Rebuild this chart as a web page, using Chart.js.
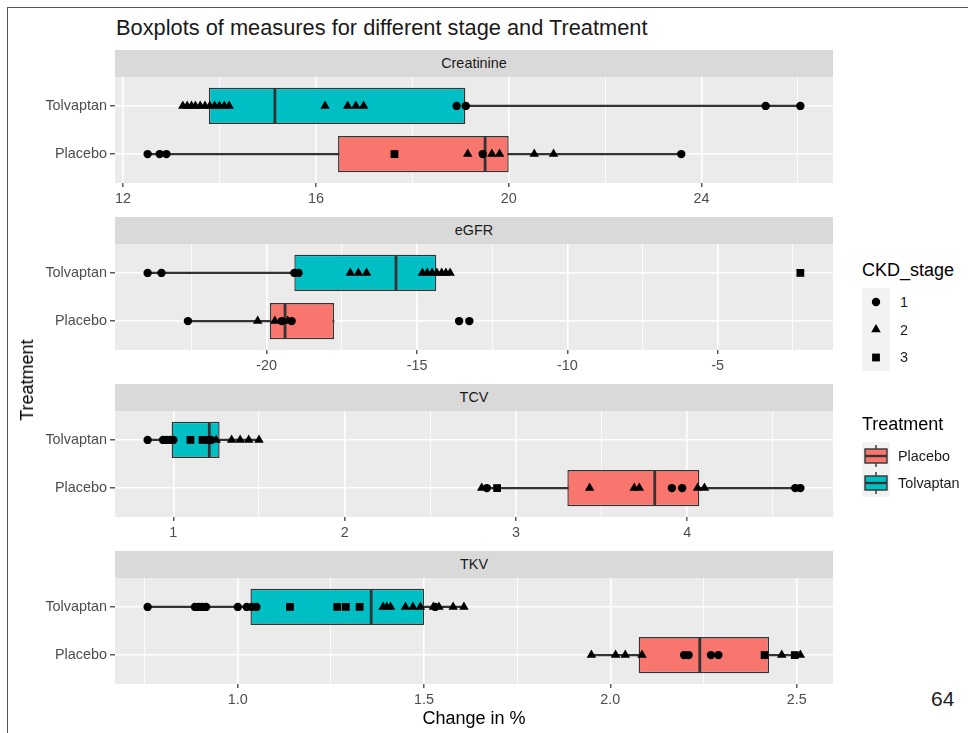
<!DOCTYPE html>
<html>
<head>
<meta charset="utf-8">
<script src="https://cdn.jsdelivr.net/npm/chart.js@4.4.1/dist/chart.umd.min.js"></script>
<style>
  html, body { margin: 0; padding: 0; background: #fff; }
  #page { position: relative; width: 968px; height: 733px; overflow: hidden;
          font-family: "Liberation Sans", Arial, Helvetica, sans-serif; color: #000; }
  .frameL { position: absolute; left: 7px; top: 7px; width: 1px; height: 726px; background: #555; }
  .frameT { position: absolute; left: 7px; top: 7px; width: 961px; height: 1px; background: #555; }
  #title { position: absolute; left: 116px; top: 16px; font-size: 21.8px; line-height: 24px;
           color: #1a1a1a; white-space: nowrap; }
  .strip { position: absolute; left: 115px; width: 718px; height: 27px; background: #d9d9d9;
           color: #1a1a1a; font-size: 14.4px; line-height: 27px; text-align: center; }
  canvas.panel { position: absolute; left: 0; }
  #xtitle { position: absolute; left: 115px; width: 718px; top: 707px; text-align: center;
            font-size: 18px; line-height: 22px; }
  #ytitle { position: absolute; left: 27px; top: 380px; font-size: 18px; line-height: 22px;
            white-space: nowrap; transform: translate(-50%, -50%) rotate(-90deg); }
  .lgTitle { position: absolute; left: 862px; font-size: 18px; line-height: 22px; white-space: nowrap; }
  .lgLabel { position: absolute; font-size: 14.4px; line-height: 18px; color: #1a1a1a; white-space: nowrap; }
  .lgKey { position: absolute; left: 862px; }
  #pageNo { position: absolute; left: 931px; top: 687px; font-size: 21px; line-height: 24px; color: #222; }
</style>
</head>
<body>
<div id="page">
  <div class="frameL"></div>
  <div class="frameT"></div>
  <div id="title">Boxplots of measures for different stage and Treatment</div>

  <div class="strip" style="top:50px">Creatinine</div>
  <canvas class="panel" id="pCreatinine" width="845" height="146" style="top:77px"></canvas>
  <div class="strip" style="top:217px">eGFR</div>
  <canvas class="panel" id="pEGFR" width="845" height="146" style="top:244px"></canvas>
  <div class="strip" style="top:384px">TCV</div>
  <canvas class="panel" id="pTCV" width="845" height="146" style="top:411px"></canvas>
  <div class="strip" style="top:551px">TKV</div>
  <canvas class="panel" id="pTKV" width="845" height="146" style="top:578px"></canvas>

  <div id="xtitle">Change in %</div>
  <div id="ytitle">Treatment</div>

  <!-- shape legend -->
  <div class="lgTitle" style="top:259px">CKD_stage</div>
  <svg class="lgKey" style="top:288px" width="28" height="83" viewBox="0 0 28 83">
    <rect x="0" y="0" width="28" height="83" fill="#f2f2f2"/>
    <circle cx="14" cy="14" r="4.2" fill="#000"/>
    <polygon points="14,36 18.8,44.3 9.2,44.3" fill="#000"/>
    <rect x="10.1" y="65.6" width="7.8" height="7.8" fill="#000"/>
  </svg>
  <div class="lgLabel" style="left:900px;top:293px">1</div>
  <div class="lgLabel" style="left:900px;top:320.5px">2</div>
  <div class="lgLabel" style="left:900px;top:348px">3</div>

  <!-- fill legend -->
  <div class="lgTitle" style="top:413px">Treatment</div>
  <svg class="lgKey" style="top:442px" width="28" height="55" viewBox="0 0 28 55">
    <rect x="0" y="0" width="28" height="55" fill="#f2f2f2"/>
    <g stroke="#333" stroke-width="1.4">
      <line x1="14" y1="3" x2="14" y2="7"/>
      <line x1="14" y1="21" x2="14" y2="25"/>
      <rect x="3" y="7" width="22" height="14" fill="#F8766D"/>
      <line x1="3" y1="14" x2="25" y2="14" stroke-width="2.4"/>
      <line x1="14" y1="30" x2="14" y2="34"/>
      <line x1="14" y1="48" x2="14" y2="52"/>
      <rect x="3" y="34" width="22" height="14" fill="#00BFC4"/>
      <line x1="3" y1="41" x2="25" y2="41" stroke-width="2.4"/>
    </g>
  </svg>
  <div class="lgLabel" style="left:898px;top:447px">Placebo</div>
  <div class="lgLabel" style="left:898px;top:474px">Tolvaptan</div>

  <div id="pageNo">64</div>
</div>

<script>
// Groups on the vertical axis (top to bottom) and the point-shape groups
const treatments = ['Tolvaptan', 'Placebo'];
const stages = ['1', '2', '3'];

// Box summaries per treatment: [lower whisker, Q1, median, Q3, upper whisker]
// Point lists per treatment: [Tolvaptan values, Placebo values]

// Creatinine
const creatinineBox = [[13.24, 13.78, 15.15, 19.10, 26.05], [12.51, 16.46, 19.51, 20.00, 23.58]];
const creatinineStage1 = [[18.92, 19.11, 25.33, 26.05], [12.51, 12.76, 12.90, 19.46, 23.58]];
const creatinineStage2 = [[13.24, 13.33, 13.42, 13.50, 13.60, 13.70, 13.80, 13.90, 14.00, 14.10, 14.20, 16.19, 16.66, 16.83, 16.99],
                          [19.15, 19.65, 19.81, 20.53, 20.93]];
const creatinineStage3 = [[], [17.63]];
const creatinineTicks = [12, 16, 20, 24];
const creatinineTickLabels = ['12', '16', '20', '24'];
const creatinineMinorTicks = [14, 18, 22, 26];

// eGFR
const egfrBox = [[-23.96, -19.08, -15.70, -14.36, -13.90], [-22.62, -19.89, -19.39, -17.76, -17.76]];
const egfrStage1 = [[-23.96, -23.50, -19.08, -18.94], [-22.62, -19.50, -19.17, -13.60, -13.26]];
const egfrStage2 = [[-17.22, -16.95, -16.68, -14.82, -14.66, -14.50, -14.34, -14.18, -14.04, -13.90],
                    [-20.30, -19.73, -19.30]];
const egfrStage3 = [[-2.25], []];
const egfrTicks = [-20, -15, -10, -5];
const egfrTickLabels = ['-20', '-15', '-10', '-5'];
const egfrMinorTicks = [-22.5, -17.5, -12.5, -7.5, -2.5];

// TCV
const tcvBox = [[0.85, 0.99, 1.21, 1.27, 1.50], [2.80, 3.30, 3.81, 4.07, 4.66]];
const tcvStage1 = [[0.85, 0.94, 0.96, 0.98, 1.00, 1.22], [2.83, 3.91, 3.97, 4.63, 4.66]];
const tcvStage2 = [[1.25, 1.34, 1.39, 1.44, 1.50], [2.80, 3.43, 3.69, 3.72, 4.06, 4.10]];
const tcvStage3 = [[1.10, 1.17, 1.19, 1.21], [2.89]];
const tcvTicks = [1, 2, 3, 4];
const tcvTickLabels = ['1', '2', '3', '4'];
const tcvMinorTicks = [1.5, 2.5, 3.5, 4.5];

// TKV
const tkvBox = [[0.758, 1.034, 1.358, 1.500, 1.607], [1.949, 2.076, 2.240, 2.426, 2.510]];
const tkvStage1 = [[0.758, 0.885, 0.895, 0.905, 0.915, 1.000, 1.024, 1.038, 1.050, 1.530], [2.198, 2.210, 2.270, 2.290]];
const tkvStage2 = [[1.390, 1.400, 1.410, 1.450, 1.470, 1.490, 1.525, 1.540, 1.578, 1.607],
                   [1.949, 2.014, 2.040, 2.085, 2.460, 2.510]];
const tkvStage3 = [[1.140, 1.267, 1.290, 1.327], [2.414, 2.495]];
const tkvTicks = [1.0, 1.5, 2.0, 2.5];
const tkvTickLabels = ['1.0', '1.5', '2.0', '2.5'];
const tkvMinorTicks = [0.75, 1.25, 1.75, 2.25];

// ---- styling ----
const FILLS = ['#00BFC4', '#F8766D'];      // Tolvaptan, Placebo
const INK = '#333333';
const FONT = '"Liberation Sans", Arial, Helvetica, sans-serif';
const POINT_STYLES = ['circle', 'triangle', 'rect'];
const POINT_RADII = [4.2, 5.5, 5.5];

// grey panel background behind the grid
const panelBackground = {
  id: 'panelBackground',
  beforeDraw(chart) {
    const { ctx, chartArea: a } = chart;
    ctx.save();
    ctx.fillStyle = '#EBEBEB';
    ctx.fillRect(a.left, a.top, a.right - a.left, a.bottom - a.top);
    ctx.restore();
  }
};

function rowsOf(values, fn) {
  return values.flatMap((list, row) => list.map(v => fn(v, row + 1)));
}

function drawPanel(canvasId, box, stageLists, ticks, tickLabels, minorTicks) {
  // axis limits: data range widened by 5% on each side
  const all = box.flat().concat(stageLists.flat(2));
  const lo = Math.min(...all), hi = Math.max(...all);
  const pad = (hi - lo) * 0.05;
  const allTicks = ticks.concat(minorTicks).sort((a, b) => a - b);
  const isMajor = v => ticks.includes(v);

  const barBase = { type: 'bar', indexAxis: 'y', grouped: false, borderSkipped: false };
  const datasets = [
    // whiskers
    Object.assign({}, barBase, {
      order: 4,
      data: box.map((b, i) => ({ y: i + 1, x: [b[0], b[4]] })),
      backgroundColor: INK, borderWidth: 0, barThickness: 1.6
    }),
    // box from Q1 to Q3
    Object.assign({}, barBase, {
      order: 3,
      data: box.map((b, i) => ({ y: i + 1, x: [b[1], b[3]] })),
      backgroundColor: FILLS, borderColor: INK, borderWidth: 1.4,
      categoryPercentage: 1, barPercentage: 0.75
    }),
    // median bar across the box
    {
      type: 'scatter',
      order: 2,
      data: box.map((b, i) => ({ x: b[2], y: i + 1 })),
      pointStyle: 'line',
      pointRotation: 90,
      pointRadius: 17.4,
      pointBorderColor: INK,
      pointBorderWidth: 2.8,
      showLine: false
    }
  ];
  stageLists.forEach((lists, s) => {
    datasets.push({
      type: 'scatter',
      label: stages[s],
      order: 1,
      data: rowsOf(lists, (v, row) => ({ x: v, y: row })),
      pointStyle: POINT_STYLES[s],
      pointRadius: POINT_RADII[s],
      pointBackgroundColor: '#000',
      pointBorderWidth: 0,
      showLine: false
    });
  });

  new Chart(document.getElementById(canvasId), {
    type: 'bar',
    data: { datasets },
    plugins: [panelBackground],
    options: {
      responsive: false,
      animation: false,
      events: [],
      layout: { autoPadding: false, padding: { left: 0, right: 12, top: 0, bottom: 0 } },
      plugins: { legend: { display: false }, tooltip: { enabled: false }, title: { display: false } },
      scales: {
        x: {
          type: 'linear',
          position: 'bottom',
          min: lo - pad,
          max: hi + pad,
          beginAtZero: false,
          offset: false,
          afterBuildTicks: scale => { scale.ticks = allTicks.map(v => ({ value: v })); },
          afterFit: scale => {
            scale.height = 40;
            scale.paddingLeft = 0;
            scale.paddingRight = 0;
          },
          border: { display: false },
          grid: {
            offset: false,
            color: '#FFFFFF',
            lineWidth: ctx => (ctx.tick && isMajor(ctx.tick.value)) ? 1.6 : 0.8,
            tickColor: ctx => (ctx.tick && isMajor(ctx.tick.value)) ? INK : 'rgba(0,0,0,0)',
            tickLength: 4,
            tickWidth: 1.2
          },
          ticks: {
            autoSkip: false,
            maxRotation: 0,
            padding: 3,
            color: '#4D4D4D',
            font: { family: FONT, size: 14.4 },
            callback: value => {
              const k = ticks.indexOf(value);
              return k >= 0 ? tickLabels[k] : '';
            }
          }
        },
        y: {
          type: 'linear',
          position: 'left',
          min: 0.4,
          max: 2.6,
          reverse: true,
          offset: false,
          afterBuildTicks: scale => { scale.ticks = treatments.map((t, i) => ({ value: i + 1 })); },
          afterFit: scale => {
            scale.width = 115;
            scale.paddingTop = 0;
            scale.paddingBottom = 0;
          },
          border: { display: false },
          grid: {
            offset: false,
            color: '#FFFFFF',
            lineWidth: 1.6,
            tickColor: INK,
            tickLength: 5,
            tickWidth: 1.2
          },
          ticks: {
            autoSkip: false,
            padding: 3,
            color: '#4D4D4D',
            font: { family: FONT, size: 14.4 },
            callback: value => treatments[Math.round(value) - 1]
          }
        }
      }
    }
  });
}

drawPanel('pCreatinine', creatinineBox, [creatinineStage1, creatinineStage2, creatinineStage3],
          creatinineTicks, creatinineTickLabels, creatinineMinorTicks);
drawPanel('pEGFR', egfrBox, [egfrStage1, egfrStage2, egfrStage3],
          egfrTicks, egfrTickLabels, egfrMinorTicks);
drawPanel('pTCV', tcvBox, [tcvStage1, tcvStage2, tcvStage3],
          tcvTicks, tcvTickLabels, tcvMinorTicks);
drawPanel('pTKV', tkvBox, [tkvStage1, tkvStage2, tkvStage3],
          tkvTicks, tkvTickLabels, tkvMinorTicks);
</script>
</body>
</html>
